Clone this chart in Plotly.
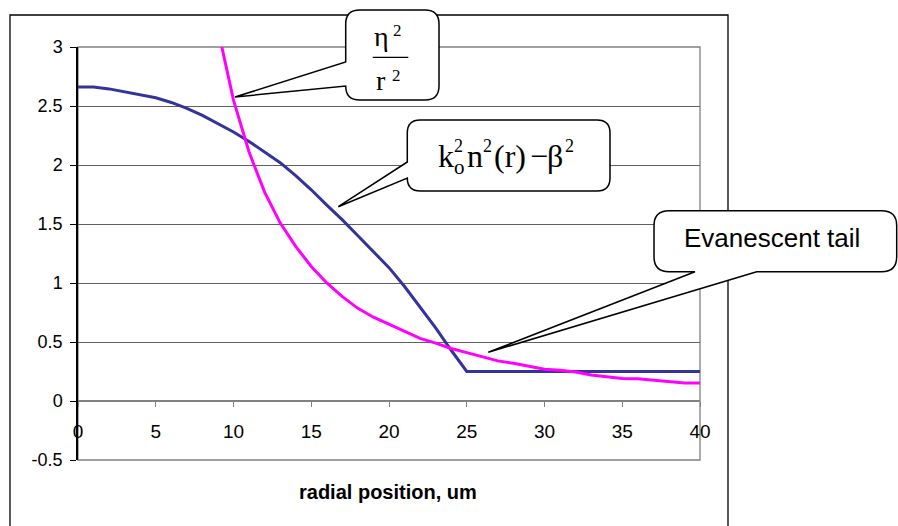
import plotly.graph_objects as go

# ---------------- data ----------------
radial_um = list(range(0, 41))
guided_profile = [2.66, 2.66, 2.645, 2.62, 2.595, 2.57, 2.53, 2.48, 2.42, 2.35,
                  2.28, 2.20, 2.11, 2.02, 1.91, 1.79, 1.66, 1.535, 1.40, 1.265,
                  1.13, 0.97, 0.80, 0.62, 0.43, 0.25, 0.25, 0.25, 0.25, 0.25,
                  0.25, 0.25, 0.25, 0.25, 0.25, 0.25, 0.25, 0.25, 0.25, 0.25, 0.25]
barrier_x = list(range(9, 41))
barrier_vals = [3.15, 2.55, 2.11, 1.77, 1.51, 1.31, 1.14, 1.00, 0.885, 0.785,
                0.71, 0.65, 0.585, 0.53, 0.49, 0.445, 0.41, 0.375, 0.34, 0.32,
                0.295, 0.27, 0.26, 0.245, 0.22, 0.205, 0.19, 0.188, 0.175, 0.165,
                0.152, 0.152]
x_ticks = [0, 5, 10, 15, 20, 25, 30, 35, 40]
y_ticks = [-0.5, 0, 0.5, 1, 1.5, 2, 2.5, 3]
y_tick_text = ["-0.5", "0", "0.5", "1", "1.5", "2", "2.5", "3"]
x_title = "radial position, um"
evanescent_label = "Evanescent tail"

# ---------------- geometry helpers ----------------
W, H = 898, 526
L, R, T, B = 78, 198, 47, 66
PW, PH = W - L - R, H - T - B


def px(x):
    return (x - L) / PW


def py(y):
    return (H - B - y) / PH


def P(x, y):
    return f"{px(x):.5f},{py(y):.5f}"


def callout_left(l, t, r_, b, rad, a1, a2, tip):
    return (f"M {P(l+rad, t)} L {P(r_-rad, t)} Q {P(r_, t)} {P(r_, t+rad)} "
            f"L {P(r_, b-rad)} Q {P(r_, b)} {P(r_-rad, b)} L {P(l+rad, b)} "
            f"Q {P(l, b)} {P(l, b-rad)} L {P(l, a2)} L {P(*tip)} L {P(l, a1)} "
            f"L {P(l, t+rad)} Q {P(l, t)} {P(l+rad, t)} Z")


def callout_bottom(l, t, r_, b, rad, a1, a2, tip):
    return (f"M {P(l+rad, t)} L {P(r_-rad, t)} Q {P(r_, t)} {P(r_, t+rad)} "
            f"L {P(r_, b-rad)} Q {P(r_, b)} {P(r_-rad, b)} L {P(a2, b)} "
            f"L {P(*tip)} L {P(a1, b)} L {P(l+rad, b)} "
            f"Q {P(l, b)} {P(l, b-rad)} L {P(l, t+rad)} Q {P(l, t)} {P(l+rad, t)} Z")


fig = go.Figure()
fig.add_trace(go.Scatter(x=radial_um, y=guided_profile, mode="lines",
                         line=dict(color="#333399", width=3), showlegend=False))
fig.add_trace(go.Scatter(x=barrier_x, y=barrier_vals, mode="lines",
                         line=dict(color="#FF00FF", width=3), showlegend=False))

shapes = []
shapes.append(dict(type="rect", xref="paper", yref="paper",
                   x0=px(10), x1=px(728), y0=py(15), y1=py(540),
                   line=dict(color="black", width=1.3), layer="below"))
shapes.append(dict(type="rect", xref="paper", yref="paper", x0=0, x1=1, y0=0, y1=1,
                   line=dict(color="#808080", width=1.3), layer="below"))
shapes.append(dict(type="path", xref="paper", yref="paper",
                   path=callout_left(345.7, 10, 439, 100, 14, 62, 86, (235, 97)),
                   line=dict(color="black", width=1.5), fillcolor="white", layer="above"))
shapes.append(dict(type="path", xref="paper", yref="paper",
                   path=callout_left(407.3, 120, 610, 191, 13, 162, 178, (338.3, 206.7)),
                   line=dict(color="black", width=1.5), fillcolor="white", layer="above"))
shapes.append(dict(type="path", xref="paper", yref="paper",
                   path=callout_bottom(654, 210.7, 896.7, 271.7, 15, 695, 756.7, (488.3, 352.3)),
                   line=dict(color="black", width=1.5), fillcolor="white", layer="above"))
shapes.append(dict(type="line", xref="paper", yref="paper",
                   x0=px(372.7), x1=px(408.3), y0=py(57.3), y1=py(57.3),
                   line=dict(color="black", width=1.2), layer="above"))

serif = "Liberation Serif, Times New Roman, serif"
sans = "Liberation Sans, Arial, sans-serif"


def piece(text, left, baseline, size, family=serif):
    # place text so its left edge and baseline sit near the given pixel position
    return dict(text=text, x=px(left), y=py(baseline - 0.35 * size), xanchor="left",
                yanchor="middle", borderpad=0,
                font=dict(family=family, size=size, color="black"))


annotations = [
    # eta^2 / r^2
    piece("η", 373, 46, 28), piece("2", 392, 36, 17),
    piece("r", 375, 90, 28), piece("2", 391, 81, 17),
    # k_o^2 n^2(r) - beta^2
    piece("k", 437, 167, 32), piece("2", 453, 152, 18), piece("o", 453, 174, 21),
    piece("n", 466, 167, 32), piece("2", 482, 152, 18),
    piece("(r)", 493, 167, 32), piece("−", 529, 167, 32), piece("β", 546, 167, 32),
    piece("2", 564, 152, 18),
    dict(text=evanescent_label, x=px(772), y=py(238.3), xanchor="center", yanchor="middle",
         font=dict(family=sans, size=26, color="black")),
    dict(text=f"<b>{x_title}</b>", x=px(388), y=py(492), xanchor="center", yanchor="middle",
         font=dict(family=sans, size=20, color="black")),
]
for a in annotations:
    a.update(xref="paper", yref="paper", showarrow=False)

fig.update_layout(
    width=W, height=H, margin=dict(l=L, r=R, t=T, b=B, pad=0),
    paper_bgcolor="white", plot_bgcolor="white",
    shapes=shapes, annotations=annotations, showlegend=False,
    xaxis=dict(range=[0, 40], tickvals=x_ticks, ticktext=[str(v) for v in x_ticks],
               showgrid=False, zeroline=False, showline=True, linecolor="#808080", linewidth=1.5,
               ticks="outside", ticklen=5, tickcolor="#808080", tickwidth=1,
               anchor="free", position=0.5 / 3.5, ticklabelstandoff=8,
               tickfont=dict(family=sans, size=19, color="black")),
    yaxis=dict(range=[-0.5, 3], tickvals=y_ticks, ticktext=y_tick_text,
               showgrid=True, gridcolor="#606060", gridwidth=1, zeroline=False,
               showline=True, linecolor="black", linewidth=1.5,
               ticks="outside", ticklen=6, tickcolor="black", tickwidth=1,
               ticklabelstandoff=4,
               tickfont=dict(family=sans, size=18, color="black")),
)

fig.write_html("out.html")
